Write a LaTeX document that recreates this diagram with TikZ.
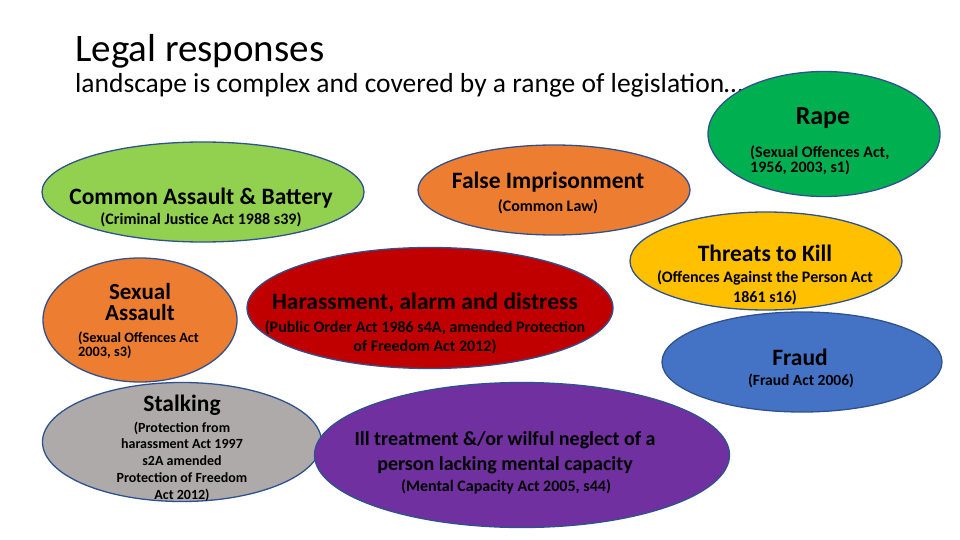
\documentclass[tikz,border=0pt]{standalone}
\usepackage{fontspec}
\setmainfont{Carlito}
\usepackage{tikz}
\usetikzlibrary{shapes.geometric}
\definecolor{lrassault}{HTML}{92D050}
\definecolor{lrrape}   {HTML}{00B050}
\definecolor{lrorange} {HTML}{ED7D31}
\definecolor{lryellow} {HTML}{FFC000}
\definecolor{lrblue}   {HTML}{4472C4}
\definecolor{lrred}    {HTML}{C00000}
\definecolor{lrgray}   {HTML}{AEAAAA}
\definecolor{lrpurple} {HTML}{7030A0}
\definecolor{lredge}   {HTML}{2F528F}

\begin{document}
\begin{tikzpicture}[
  x=1pt, y=-1pt,
  blob/.style={ellipse, draw=lredge, line width=1.3pt, inner sep=0pt},
  heading/.style={font=\bfseries\fontsize{23.5}{20}\selectfont, align=center, inner sep=0pt},
  act/.style={font=\bfseries\fontsize{16}{19}\selectfont, align=center, inner sep=0pt},
]
  \useasboundingbox[fill=white] (0,0) rectangle (960,540);

  % Slide heading, set flush left.
  \node[anchor=base west, inner sep=0pt, font=\fontsize{39}{42}\selectfont]
    (title) at (75,62) {Legal responses};
  \node[anchor=base west, inner sep=0pt, font=\fontsize{27.5}{29}\selectfont]
    (subtitle) at (75,93) {landscape is complex and covered by a range of legislation\dots};

  % The offences, one ellipse each.
  \node[blob, fill=lrassault, minimum width=322, minimum height=100] (assault) at (203,192) {};
  \node[blob, fill=lrorange,  minimum width=272, minimum height=90]  (falseimp) at (554,190) {};
  \node[blob, fill=lrrape,    minimum width=232, minimum height=125] (rape)    at (824,134) {};
  \node[blob, fill=lryellow,  minimum width=272, minimum height=98]  (threats) at (766,261) {};
  \node[blob, fill=lrblue,    minimum width=280, minimum height=100] (fraud)   at (802,362) {};
  \node[blob, fill=lrorange,  minimum width=194, minimum height=124] (sexual)  at (140,320) {};
  \node[blob, fill=lrred,     minimum width=366, minimum height=121] (harass)  at (430,308) {};
  \node[blob, fill=lrgray,    minimum width=279, minimum height=119] (stalk)   at (182,442) {};
  \node[blob, fill=lrpurple,  minimum width=415, minimum height=145] (neglect) at (522,455) {};

  % Offence names and the Acts behind them.
  \node[heading] (assault-t) at (201,198) {Common Assault \& Battery};
  \node[act] (assault-a) at (201,220) {(Criminal Justice Act 1988 s39)};

  \node[heading] (falseimp-t) at (548,182) {False Imprisonment};
  \node[act] (falseimp-a) at (548,207) {(Common Law)};

  \node[heading, font=\bfseries\fontsize{26}{26}\selectfont] (rape-t) at (823,118) {Rape};
  \node[act, align=left, anchor=west, font=\bfseries\fontsize{16}{15.5}\selectfont]
    (rape-a) at (750,160.5) {(Sexual Offences Act,\\1956, 2003, s1)};

  \node[heading] (threats-t) at (765,253) {Threats to Kill};
  \node[act, font=\bfseries\fontsize{16}{20}\selectfont]
    (threats-a) at (765,288) {(Offences Against the Person Act\\1861 s16)};

  \node[heading] (fraud-t) at (800,357) {Fraud};
  \node[act, font=\bfseries\fontsize{15.5}{19}\selectfont] (fraud-a) at (801,381) {(Fraud Act 2006)};

  \node[heading, font=\bfseries\fontsize{23}{21}\selectfont] (sexual-t) at (140,302.5) {Sexual\\Assault};
  \node[act, align=left, anchor=west, font=\bfseries\fontsize{14.3}{10.5}\selectfont]
    (sexual-a) at (78,345) {(Sexual Offences Act\\2003, s3)};

  \node[heading] (harass-t) at (425,303) {Harassment, alarm and distress};
  \node[act] (harass-a) at (425,337.5) {(Public Order Act 1986 s4A, amended Protection\\of Freedom Act 2012)};

  \node[heading] (stalk-t) at (182,405) {Stalking};
  \node[act, font=\bfseries\fontsize{14}{16.75}\selectfont]
    (stalk-a) at (182,461.5) {(Protection from\\harassment Act 1997\\s2A amended\\Protection of Freedom\\Act 2012)};

  \node[heading, font=\bfseries\fontsize{20}{25}\selectfont]
    (neglect-t) at (505,452.5) {Ill treatment \&/or wilful neglect of a\\person lacking mental capacity};
  \node[act] (neglect-a) at (506,487) {(Mental Capacity Act 2005, s44)};
\end{tikzpicture}
\end{document}
